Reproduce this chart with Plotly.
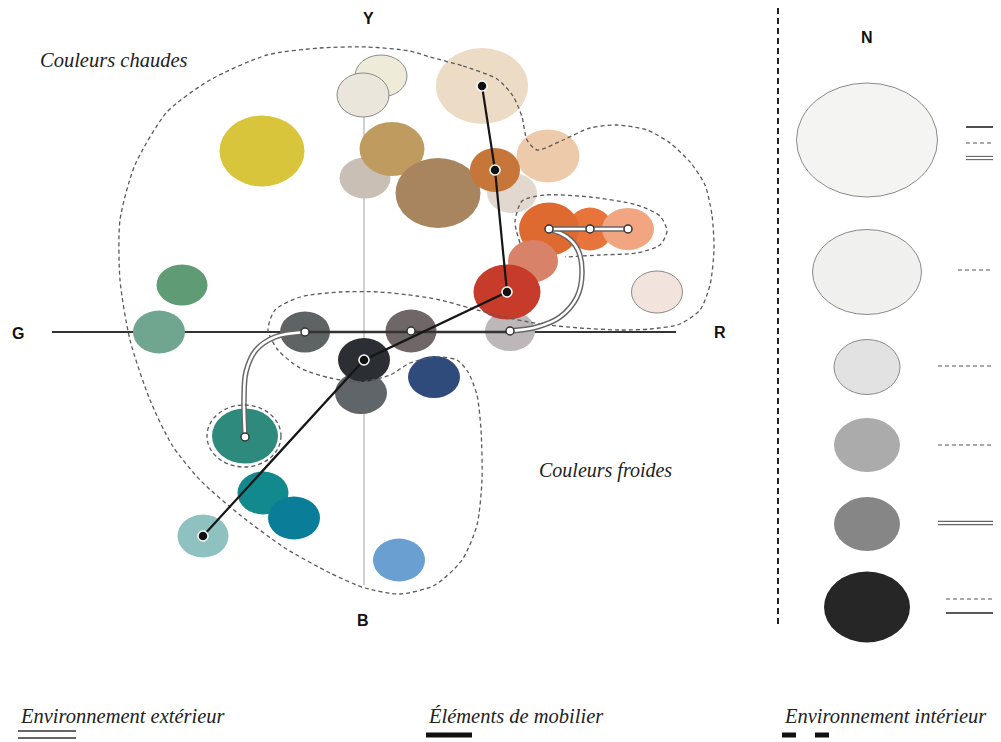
import plotly.graph_objects as go

# ---------------- data (G–R horizontal, B–Y vertical) ----------------
# colour samples: position on G-R axis, position on B-Y axis, width, height, colour, outlined
gr = [17, -1, -102, 1, 28, 74, 118, 148, 184, 131, 226, 185, 264, 146, 169, 143, 293,
      -182, -205, -59, 47, -3, 0, 70, -119, -101, -70, -161, 35]
by = [256, 237, 181, 154, 183, 139, 246, 139, 176, 162, 103, 103, 103, 1, 71, 40, 40,
      47, 0, 0, 1, -61, -28, -45, -104, -161, -186, -204, -228]
wid = [52, 52, 85, 51, 65, 85, 92, 50, 63, 50, 45, 60, 52, 50, 50, 67, 51,
       51, 52, 50, 51, 52, 52, 52, 66, 51, 52, 51, 52]
hei = [42, 44, 71, 41, 54, 70, 76, 40, 53, 44, 43, 53, 42, 40, 42, 55, 42,
       41, 43, 41, 43, 42, 44, 42, 55, 43, 43, 43, 43]
col = ["#eeecd8", "#ebe6dc", "#d8c53c", "#c9bfb4", "#bf9b60", "#a8855f", "#ecdcc5",
       "#e2d8d0", "#edcaaa", "#c7763a", "#e8743b", "#df6a2f", "#f1a581", "#bdb7b9",
       "#d9826a", "#c63b2a", "#f2e4dc", "#5f9b74", "#70a690", "#5e6363", "#6f6767",
       "#5f6568", "#2b2f34", "#2f4b7b", "#2e8a7c", "#12898d", "#0a7e98", "#8fc1c1",
       "#6a9fd1"]
outlined = [1, 1, 0, 0, 0, 0, 0, 0, 0, 0, 0, 0, 0, 0, 0, 0, 1,
            0, 0, 0, 0, 0, 0, 0, 0, 0, 0, 0, 0]

# furniture chain (Éléments de mobilier): indices of samples
furniture_idx = [6, 9, 15, 22, 27]
# exterior environment samples (white dots)
exterior_idx = [24, 19, 20, 13, 11, 10, 12]

# exterior route bends
ext_route_a_gr = [-119, -120, -118, -108, -89, -59]
ext_route_a_by = [-104, -68, -40, -18, -5, 0]
ext_route_b_gr = [146, 173, 196, 213, 218, 214, 203, 185]
ext_route_b_by = [1, 5, 15, 35, 59, 82, 95, 103]

# interior environment outlines
warm_cold_gr = [66, 99, 133, 149, 158, 163, 173, 199, 226, 253, 283, 306, 326, 341, 348, 350,
                346, 336, 316, 286, 256, 216, 176, 136, 106, 76, 53, 16, -24, -64, -89, -96,
                -86, -64, -34, -4, 26, 46, 73, 93, 104, 113, 117, 118, 113, 98, 71, 36, 1,
                -34, -79, -124, -164, -192, -214, -234, -244, -244, -229, -197, -154, -97,
                -44, 3, 46, 66]
warm_cold_by = [275, 266, 253, 236, 215, 192, 182, 192, 204, 207, 202, 189, 170, 147, 117, 82,
                47, 22, 8, 3, 2, 4, 8, 16, 24, 32, 36, 40, 40, 35, 22, 2,
                -18, -36, -46, -50, -43, -31, -25, -28, -40, -63, -98, -148, -193, -228, -253,
                -262, -256, -241, -216, -183, -148, -113, -68, -8, 52, 112, 167, 220, 252,
                277, 284, 285, 281, 275]
orange_gr = [156, 151, 158, 181, 226, 273, 296, 303, 296, 273, 236, 201]
orange_by = [89, 110, 131, 137, 135, 127, 116, 101, 87, 79, 77, 75]

# neutral scale N
n_by = [192, 60, -35, -113, -192, -275]
n_w = [141, 109, 66, 66, 66, 86]
n_h = [114, 85, 55, 54, 54, 71]
n_col = ["#f4f4f2", "#f0f0ef", "#e2e2e2", "#ababab", "#868686", "#262626"]
n_out = [1, 1, 1, 0, 0, 0]

fig = go.Figure()
shapes = []

# axes
shapes.append(dict(type="line", xref="x", yref="y", x0=0, x1=0, y0=215, y1=-253,
                   line=dict(color="#b0b0b0", width=1.2), layer="below"))
shapes.append(dict(type="line", xref="x", yref="y", x0=-312, x1=312, y0=0, y1=0,
                   line=dict(color="#333333", width=2.2), layer="below"))

def ell(cx, cy, w, h, c, o, layer="below"):
    return dict(type="circle", xref="x", yref="y", x0=cx - w / 2, x1=cx + w / 2,
                y0=cy - h / 2, y1=cy + h / 2, fillcolor=c,
                line=dict(color="#8a8a8a" if o else c, width=1 if o else 0), layer=layer)

for i in range(len(gr)):
    shapes.append(ell(gr[i], by[i], wid[i], hei[i], col[i], outlined[i]))

# dashed ring around teal sample
shapes.append(dict(type="circle", xref="x", yref="y", x0=-157, x1=-83, y0=-135, y1=-73,
                   line=dict(color="#5a5a5a", width=1.3, dash="4px,3px"), layer="above"))

# right panel N scale
shapes.append(dict(type="line", xref="x", yref="y", x0=414, x1=414, y0=324, y1=-296,
                   line=dict(color="#222222", width=2, dash="6px,4px")))
for i in range(len(n_by)):
    shapes.append(ell(503, n_by[i], n_w[i], n_h[i], n_col[i], n_out[i], layer="above"))

def hline(x0, x1, y, style):
    out = []
    if style == "solid":
        out.append(dict(type="line", xref="x", yref="y", x0=x0, x1=x1, y0=y, y1=y,
                        line=dict(color="#222", width=1.6)))
    elif style == "dash":
        out.append(dict(type="line", xref="x", yref="y", x0=x0, x1=x1, y0=y, y1=y,
                        line=dict(color="#555", width=1.1, dash="4px,3px")))
    else:
        for dy in (1.6, -1.6):
            out.append(dict(type="line", xref="x", yref="y", x0=x0, x1=x1, y0=y + dy, y1=y + dy,
                            line=dict(color="#666", width=1.1)))
    return out

for x0, y, st in [(602, 205, "solid"), (602, 189, "dash"), (602, 174, "double"),
                  (594, 62, "dash"), (574, -34, "dash"), (574, -113, "dash"),
                  (574, -191, "double"), (582, -267, "dash"), (582, -281, "solid")]:
    shapes += hline(x0, 634, y, st)

# bottom legend markers
for y in (-399, -406):
    shapes.append(dict(type="line", xref="x", yref="y", x0=-346, x1=-288, y0=y, y1=y,
                       line=dict(color="#333", width=1.6)))
shapes.append(dict(type="line", xref="x", yref="y", x0=62, x1=108, y0=-403, y1=-403,
                   line=dict(color="#111", width=5)))
for x0 in (418, 451):
    shapes.append(dict(type="line", xref="x", yref="y", x0=x0, x1=x0 + 14, y0=-403, y1=-403,
                       line=dict(color="#111", width=5)))

# ---------------- traces ----------------
dash_line = dict(color="#5a5a5a", width=1.3, dash="4px,3px", shape="spline", smoothing=0.7)
fig.add_trace(go.Scatter(x=warm_cold_gr, y=warm_cold_by, mode="lines", line=dash_line))
fig.add_trace(go.Scatter(x=orange_gr, y=orange_by, mode="lines", line=dash_line))

# exterior double line
for xs, ys, shp in [(ext_route_a_gr, ext_route_a_by, "spline"),
                    (ext_route_b_gr, ext_route_b_by, "spline"),
                    ([gr[i] for i in exterior_idx[4:]], [by[i] for i in exterior_idx[4:]], "linear")]:
    fig.add_trace(go.Scatter(x=xs, y=ys, mode="lines",
                             line=dict(color="#666", width=5.5, shape=shp)))
    fig.add_trace(go.Scatter(x=xs, y=ys, mode="lines",
                             line=dict(color="white", width=2.6, shape=shp)))
fig.add_trace(go.Scatter(x=[gr[i] for i in exterior_idx[1:4]], y=[0, 0, 0], mode="lines",
                         line=dict(color="#333", width=2.6)))

# furniture line
fx = [gr[i] for i in furniture_idx]
fy = [by[i] for i in furniture_idx]
fig.add_trace(go.Scatter(x=fx, y=fy, mode="lines", line=dict(color="#161616", width=2.2)))
fig.add_trace(go.Scatter(x=fx, y=fy, mode="markers",
                         marker=dict(size=10, color="#111", line=dict(color="white", width=1.5))))
# exterior dots
ex_x = [gr[i] for i in exterior_idx]
ex_y = [by[i] for i in exterior_idx]
ex_y[0] = -105
fig.add_trace(go.Scatter(x=ex_x, y=ex_y, mode="markers",
                         marker=dict(size=8, color="white", line=dict(color="#333", width=1.5))))

# ---------------- text ----------------
ann = []
def lab(x, y, t, size, fam, xa="center", color="#111"):
    ann.append(dict(x=x, y=y, xref="x", yref="y", text=t, showarrow=False, xanchor=xa,
                    yanchor="middle", font=dict(size=size, family=fam, color=color)))

lab(-346, -1, "<b>G</b>", 16, "Liberation Sans")
lab(356, 0, "<b>R</b>", 16, "Liberation Sans")
lab(4, 314, "<b>Y</b>", 16, "Liberation Sans")
lab(-1, -288, "<b>B</b>", 16, "Liberation Sans")
lab(503, 295, "<b>N</b>", 16, "Liberation Sans")
lab(-326, 272, "<i>Couleurs chaudes</i>", 20.5, "Liberation Serif", "left", "#222")
lab(173, -138, "<i>Couleurs froides</i>", 20, "Liberation Serif", "left", "#222")
lab(-346, -384, "<i>Environnement extérieur</i>", 20.5, "Liberation Serif", "left", "#222")
lab(62, -384, "<i>Éléments de mobilier</i>", 20.5, "Liberation Serif", "left", "#222")
lab(418, -384, "<i>Environnement intérieur</i>", 20.5, "Liberation Serif", "left", "#222")

# page body has an 8px margin: figure occupies 993x734 starting at (8, 8)
fig.update_layout(width=993, height=734, margin=dict(l=0, r=0, t=0, b=0),
                  paper_bgcolor="white", plot_bgcolor="white", showlegend=False,
                  shapes=shapes, annotations=ann,
                  xaxis=dict(range=[-356, 637], visible=False, fixedrange=True),
                  yaxis=dict(range=[-410, 324], visible=False, fixedrange=True))
fig.write_html("out.html")
